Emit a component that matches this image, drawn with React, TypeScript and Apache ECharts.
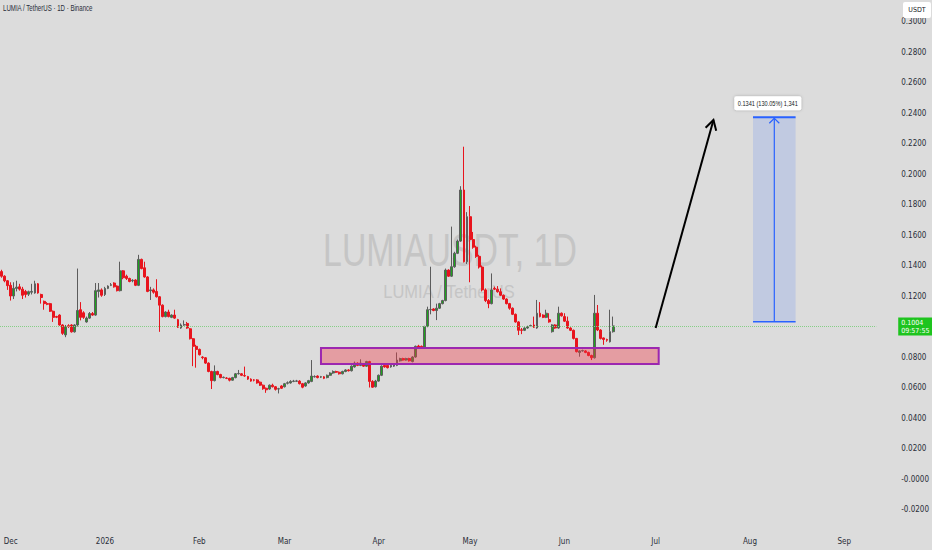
import React, { useEffect, useRef } from "react";
import * as echarts from "echarts";

// ---------- data ----------
const START_UTC = Date.UTC(2025, 10, 28); // first daily candle
const DAY_MS = 86400000;
const CATEGORY_COUNT = 288; // visible daily slots (chart extends into the future)
const MONTH_NAMES = ["Jan", "Feb", "Mar", "Apr", "May", "Jun", "Jul", "Aug", "Sep", "Oct", "Nov", "Dec"];

// [open, close, low, high]
const ohlc: number[][] = [
  [0.136, 0.133, 0.132, 0.1372], [0.133, 0.13, 0.129, 0.1336], [0.13, 0.1268, 0.124, 0.1305], [0.127, 0.12, 0.117, 0.129],
  [0.12, 0.125, 0.118, 0.129], [0.125, 0.1258, 0.123, 0.13], [0.126, 0.1245, 0.1235, 0.128], [0.1245, 0.1205, 0.118, 0.126],
  [0.123, 0.121, 0.119, 0.124], [0.1212, 0.1228, 0.12, 0.1235], [0.1225, 0.123, 0.121, 0.128], [0.122, 0.128, 0.1215, 0.13],
  [0.128, 0.122, 0.1215, 0.1285], [0.121, 0.119, 0.115, 0.1215], [0.1165, 0.115, 0.111, 0.117], [0.115, 0.1146, 0.114, 0.116],
  [0.115, 0.11, 0.1095, 0.1155], [0.11, 0.106, 0.103, 0.1105], [0.1065, 0.1061, 0.1055, 0.107], [0.1075, 0.101, 0.1005, 0.108],
  [0.101, 0.0955, 0.0945, 0.1015], [0.0945, 0.1, 0.093, 0.101], [0.1005, 0.1001, 0.099, 0.1015], [0.101, 0.0965, 0.096, 0.1015],
  [0.0965, 0.101, 0.096, 0.1015], [0.101, 0.1105, 0.1, 0.138], [0.111, 0.106, 0.104, 0.116], [0.109, 0.106, 0.105, 0.11],
  [0.103, 0.1055, 0.1025, 0.1065], [0.1055, 0.1085, 0.105, 0.1095], [0.1085, 0.1075, 0.107, 0.1095], [0.1075, 0.1235, 0.107, 0.1285],
  [0.123, 0.124, 0.119, 0.1285], [0.124, 0.1205, 0.1195, 0.125], [0.121, 0.125, 0.12, 0.126], [0.125, 0.1265, 0.1245, 0.127],
  [0.127, 0.1274, 0.1265, 0.1285], [0.1285, 0.126, 0.1255, 0.129], [0.1265, 0.1235, 0.123, 0.127], [0.1235, 0.1365, 0.123, 0.1425],
  [0.1365, 0.132, 0.131, 0.137], [0.133, 0.1315, 0.1305, 0.134], [0.1315, 0.1295, 0.129, 0.132], [0.13, 0.1303, 0.129, 0.131],
  [0.1305, 0.127, 0.1265, 0.131], [0.127, 0.144, 0.1265, 0.147], [0.144, 0.138, 0.1375, 0.1445], [0.1385, 0.1325, 0.132, 0.1425],
  [0.1325, 0.123, 0.1225, 0.133], [0.1235, 0.124, 0.1174, 0.126], [0.124, 0.1225, 0.1215, 0.125], [0.123, 0.1195, 0.119, 0.131],
  [0.1195, 0.114, 0.0965, 0.12], [0.114, 0.1065, 0.106, 0.1145], [0.1065, 0.1095, 0.106, 0.11], [0.1095, 0.1065, 0.106, 0.111],
  [0.106, 0.1075, 0.1055, 0.108], [0.1075, 0.1055, 0.105, 0.111], [0.1045, 0.0995, 0.099, 0.105], [0.099, 0.101, 0.0985, 0.102],
  [0.101, 0.1012, 0.1005, 0.104], [0.102, 0.099, 0.0985, 0.103], [0.0985, 0.092, 0.0915, 0.099], [0.092, 0.087, 0.074, 0.0925],
  [0.087, 0.085, 0.073, 0.088], [0.085, 0.0815, 0.081, 0.0855], [0.08, 0.0796, 0.0785, 0.0805], [0.0795, 0.076, 0.0755, 0.08],
  [0.076, 0.0705, 0.07, 0.0765], [0.0705, 0.0645, 0.059, 0.071], [0.0645, 0.0705, 0.064, 0.0745], [0.0705, 0.0685, 0.068, 0.071],
  [0.0685, 0.0665, 0.066, 0.069], [0.0665, 0.0667, 0.066, 0.0672], [0.0662, 0.066, 0.0655, 0.0668], [0.066, 0.0648, 0.064, 0.0664],
  [0.0648, 0.0665, 0.0645, 0.067], [0.0665, 0.069, 0.066, 0.0695], [0.069, 0.0692, 0.0685, 0.0715], [0.069, 0.068, 0.0675, 0.0695],
  [0.0678, 0.0676, 0.067, 0.0737], [0.0672, 0.0655, 0.065, 0.0676], [0.0655, 0.0642, 0.0638, 0.066], [0.065, 0.0648, 0.064, 0.0655],
  [0.065, 0.063, 0.0625, 0.0655], [0.0635, 0.0615, 0.061, 0.064], [0.0615, 0.0592, 0.0585, 0.062], [0.0595, 0.0585, 0.0565, 0.06],
  [0.059, 0.0615, 0.0585, 0.062], [0.0615, 0.0605, 0.06, 0.0625], [0.0605, 0.0588, 0.058, 0.061], [0.059, 0.0592, 0.0561, 0.0598],
  [0.061, 0.0595, 0.059, 0.0615], [0.0605, 0.0625, 0.06, 0.063], [0.0628, 0.0631, 0.062, 0.064], [0.063, 0.064, 0.0625, 0.0648],
  [0.064, 0.0642, 0.0635, 0.065], [0.0641, 0.0643, 0.0636, 0.065], [0.0642, 0.0625, 0.062, 0.0648], [0.0625, 0.0602, 0.0595, 0.063],
  [0.061, 0.063, 0.0605, 0.0635],
  [0.063, 0.0645, 0.0625, 0.065], [0.064, 0.0675, 0.0635, 0.078], [0.067, 0.0672, 0.0665, 0.068], [0.0675, 0.0665, 0.066, 0.068],
  [0.0668, 0.0671, 0.0662, 0.0676], [0.067, 0.066, 0.0655, 0.0675], [0.0665, 0.068, 0.066, 0.0685], [0.068, 0.0695, 0.0676, 0.07],
  [0.0695, 0.0705, 0.069, 0.0712], [0.0705, 0.07, 0.0695, 0.071], [0.07, 0.069, 0.0685, 0.0705], [0.069, 0.0705, 0.0686, 0.071],
  [0.0705, 0.0715, 0.07, 0.072], [0.0715, 0.071, 0.0705, 0.072], [0.071, 0.074, 0.0705, 0.0745], [0.0735, 0.076, 0.073, 0.077],
  [0.076, 0.0745, 0.074, 0.0765], [0.0745, 0.076, 0.074, 0.0785], [0.0755, 0.074, 0.0735, 0.076], [0.074, 0.077, 0.0735, 0.0775],
  [0.077, 0.064, 0.06, 0.0775], [0.064, 0.0602, 0.0598, 0.0648], [0.0605, 0.0642, 0.06, 0.065], [0.0642, 0.068, 0.0638, 0.0685],
  [0.068, 0.074, 0.0675, 0.0745], [0.0745, 0.0735, 0.073, 0.075], [0.0745, 0.073, 0.0725, 0.0752], [0.0735, 0.0745, 0.073, 0.075],
  [0.074, 0.0748, 0.0735, 0.0752], [0.0745, 0.078, 0.074, 0.083], [0.0775, 0.079, 0.077, 0.0795], [0.079, 0.078, 0.0776, 0.0795],
  [0.078, 0.079, 0.0776, 0.0795], [0.079, 0.0775, 0.077, 0.0795], [0.077, 0.08, 0.0765, 0.0805], [0.08, 0.087, 0.0795, 0.0875],
  [0.0872, 0.0865, 0.086, 0.088], [0.087, 0.0865, 0.0858, 0.0875], [0.0865, 0.1, 0.086, 0.1005], [0.1, 0.111, 0.0995, 0.113],
  [0.111, 0.1112, 0.108, 0.1392], [0.1115, 0.1105, 0.11, 0.112], [0.1105, 0.112, 0.1042, 0.115], [0.112, 0.115, 0.1115, 0.1155],
  [0.115, 0.117, 0.1145, 0.1175], [0.117, 0.137, 0.1165, 0.138], [0.137, 0.133, 0.1325, 0.1375], [0.133, 0.1392, 0.1325, 0.1655],
  [0.1392, 0.148, 0.1385, 0.149], [0.148, 0.156, 0.1475, 0.157], [0.156, 0.1895, 0.1555, 0.192], [0.1895, 0.1425, 0.142, 0.2179],
  [0.1425, 0.172, 0.141, 0.175], [0.172, 0.157, 0.129, 0.179], [0.157, 0.152, 0.151, 0.162], [0.152, 0.146, 0.145, 0.153],
  [0.146, 0.139, 0.138, 0.147], [0.139, 0.124, 0.123, 0.14], [0.124, 0.117, 0.116, 0.125], [0.117, 0.115, 0.112, 0.118],
  [0.115, 0.124, 0.1145, 0.1348], [0.125, 0.1245, 0.124, 0.1262], [0.1245, 0.1228, 0.1222, 0.1265], [0.1228, 0.1205, 0.12, 0.125],
  [0.1205, 0.118, 0.1175, 0.121], [0.118, 0.115, 0.1145, 0.1185], [0.115, 0.112, 0.111, 0.1155], [0.112, 0.108, 0.1075, 0.1125],
  [0.108, 0.103, 0.1025, 0.1085], [0.103, 0.0975, 0.0944, 0.1035], [0.0978, 0.0975, 0.095, 0.099], [0.0975, 0.099, 0.097, 0.0995],
  [0.099, 0.1, 0.0985, 0.1005], [0.1003, 0.1006, 0.0998, 0.1012], [0.101, 0.0995, 0.099, 0.1065], [0.099, 0.1087, 0.0985, 0.1174],
  [0.1087, 0.1065, 0.106, 0.116], [0.1075, 0.106, 0.1055, 0.108], [0.106, 0.1087, 0.1055, 0.111], [0.1045, 0.103, 0.1025, 0.1087],
  [0.0966, 0.101, 0.096, 0.1015], [0.101, 0.099, 0.0985, 0.1015], [0.099, 0.1087, 0.0985, 0.113], [0.1087, 0.107, 0.1065, 0.1092],
  [0.1065, 0.1035, 0.103, 0.1087], [0.1035, 0.099, 0.0985, 0.1065], [0.099, 0.0975, 0.097, 0.0995], [0.0975, 0.0922, 0.0915, 0.098],
  [0.0922, 0.0835, 0.083, 0.0925], [0.083, 0.084, 0.0802, 0.0845], [0.084, 0.0842, 0.0835, 0.0848], [0.084, 0.083, 0.0825, 0.0845],
  [0.083, 0.081, 0.0805, 0.0835], [0.081, 0.0795, 0.078, 0.0815], [0.0795, 0.1087, 0.079, 0.1207], [0.1087, 0.0977, 0.097, 0.1141],
  [0.0977, 0.0922, 0.0915, 0.0982], [0.0925, 0.0915, 0.088, 0.0928], [0.0915, 0.091, 0.09, 0.092], [0.09, 0.0966, 0.0895, 0.111],
  [0.0966, 0.1004, 0.096, 0.1065],
];

const lastPrice = 0.1004;
const lastPriceCountdown = "09:57:55";
const titleText = "LUMIA / TetherUS · 1D · Binance";
const watermarkMain = "LUMIAUSDT, 1D";
const watermarkSub = "LUMIA / TetherUS";
const currencyLabel = "USDT";

// drawings, in (candle index, price) terms
const supportZone = { fromIdx: 104.6, toIdx: 215.5, top: 0.0859, bottom: 0.0754 };
const trendArrow = { fromIdx: 214.8, fromPrice: 0.099, toIdx: 233.5, toPrice: 0.2354 };
const priceRange = { fromIdx: 246.6, toIdx: 261.1, base: 0.1031, target: 0.2372, label: "0.1341 (130.05%) 1,341" };

const Y_MIN = -0.04;
const Y_MAX = 0.3141;
const Y_STEP = 0.02;

// ---------- helpers ----------
const categories: string[] = Array.from({ length: CATEGORY_COUNT }, (_, i) => {
  const d = new Date(START_UTC + i * DAY_MS);
  return d.toISOString().slice(0, 10);
});

const NARROW = "'Liberation Sans Narrow', 'DejaVu Sans Condensed', 'Liberation Sans', sans-serif";
const SANS = "'Liberation Sans', Arial, sans-serif";
const BG = "#dcdcdc";

export default function App() {
  const ref = useRef<HTMLDivElement>(null);

  useEffect(() => {
    if (!ref.current) return;
    const chart = echarts.init(ref.current, undefined, { renderer: "svg" });

    const renderDrawings = (_params: any, api: any) => {
      const za = api.coord([supportZone.fromIdx, supportZone.top]);
      const zb = api.coord([supportZone.toIdx, supportZone.bottom]);

      const a0 = api.coord([trendArrow.fromIdx, trendArrow.fromPrice]);
      const a1 = api.coord([trendArrow.toIdx, trendArrow.toPrice]);
      const dx = a0[0] - a1[0];
      const dy = a0[1] - a1[1];
      const len = Math.sqrt(dx * dx + dy * dy);
      const ux = dx / len;
      const uy = dy / len;
      const ang = (30 * Math.PI) / 180;
      const hl = 11;
      const rot = (s: number) => [
        a1[0] + hl * (ux * Math.cos(s * ang) - uy * Math.sin(s * ang)),
        a1[1] + hl * (ux * Math.sin(s * ang) + uy * Math.cos(s * ang)),
      ];
      const h1 = rot(1);
      const h2 = rot(-1);

      const m0 = api.coord([priceRange.fromIdx, priceRange.target]);
      const m1 = api.coord([priceRange.toIdx, priceRange.base]);
      const cx = (m0[0] + m1[0]) / 2;
      const blue = "#2962ff";

      return {
        type: "group",
        children: [
          {
            type: "rect",
            shape: { x: za[0], y: za[1], width: zb[0] - za[0], height: zb[1] - za[1] },
            style: { fill: "rgba(242,54,69,0.38)", stroke: "#9c27b0", lineWidth: 2 },
          },
          {
            type: "polyline",
            shape: { points: [a0, a1] },
            style: { stroke: "#000", lineWidth: 2, fill: "none" },
          },
          {
            type: "polyline",
            shape: { points: [h1, a1, h2] },
            style: { stroke: "#000", lineWidth: 2, fill: "none" },
          },
          {
            type: "rect",
            shape: { x: m0[0], y: m0[1], width: m1[0] - m0[0], height: m1[1] - m0[1] },
            style: { fill: "rgba(41,98,255,0.15)" },
          },
          {
            type: "line",
            shape: { x1: m0[0], y1: m0[1], x2: m1[0], y2: m0[1] },
            style: { stroke: blue, lineWidth: 2 },
          },
          {
            type: "line",
            shape: { x1: m0[0], y1: m1[1], x2: m1[0], y2: m1[1] },
            style: { stroke: blue, lineWidth: 1.5 },
          },
          {
            type: "line",
            shape: { x1: cx, y1: m1[1], x2: cx, y2: m0[1] },
            style: { stroke: blue, lineWidth: 1.2 },
          },
          {
            type: "polyline",
            shape: { points: [[cx - 5, m0[1] + 6], [cx, m0[1] + 1], [cx + 5, m0[1] + 6]] },
            style: { stroke: blue, lineWidth: 1.2, fill: "none" },
          },
          {
            type: "rect",
            shape: { x: cx - 40, y: m0[1] - 21, width: 67, height: 14, r: 2 },
            style: { fill: "#ffffff", shadowBlur: 3, shadowColor: "rgba(0,0,0,0.25)" },
          },
          {
            type: "text",
            x: cx - 6.5,
            y: m0[1] - 14,
            scaleX: 0.8,
            style: {
              text: priceRange.label,
              x: 0,
              y: 0,
              align: "center",
              verticalAlign: "middle",
              fontSize: 7,
              fontFamily: SANS,
              fill: "#131722",
            },
          },
        ],
      };
    };

    const option: any = {
      animation: false,
      backgroundColor: BG,
      grid: { left: 0, right: 52, top: 0, bottom: 10, containLabel: false },
      xAxis: {
        type: "category",
        data: categories,
        boundaryGap: true,
        offset: -9,
        axisLine: { show: false },
        axisTick: { show: false },
        splitLine: { show: false },
        axisLabel: {
          interval: (_i: number, v: string) => v.endsWith("-01"),
          formatter: (v: string) => {
            const m = Number(v.slice(5, 7)) - 1;
            return m === 0 ? v.slice(0, 4) : MONTH_NAMES[m];
          },
          margin: 6,
          fontSize: 8,
          color: "#2a2e39",
          fontFamily: NARROW,
        },
      },
      yAxis: {
        type: "value",
        position: "right",
        min: Y_MIN,
        max: Y_MAX,
        interval: Y_STEP,
        scale: false,
        axisLine: { show: false },
        axisTick: { show: false },
        splitLine: { show: false },
        axisLabel: {
          margin: 25,
          align: "left",
          fontSize: 8,
          color: "#2a2e39",
          fontFamily: NARROW,
          formatter: (v: number) => {
            if (v > 0.305 || v < -0.025) return "";
            if (Math.abs(v - lastPrice) < 0.005) return "";
            if (Math.abs(v) < 1e-9) return "-0.0000";
            return v.toFixed(4);
          },
        },
      },
      series: [
        {
          type: "candlestick",
          data: ohlc,
          barWidth: 2.4,
          itemStyle: {
            color: "#1ea51e",
            color0: "#e8141d",
            borderColor: "#5c5c5c",
            borderColor0: "#e8141d",
            borderWidth: 1,
          },
          markLine: {
            silent: true,
            symbol: ["none", "none"],
            data: [{ yAxis: lastPrice }],
            lineStyle: { type: "dotted", color: "#86cf86", width: 1 },
            label: {
              show: true,
              position: "end",
              distance: 22,
              formatter: `${lastPrice.toFixed(4)}\n${lastPriceCountdown}`,
              backgroundColor: "#1ec41e",
              color: "#ffffff",
              fontSize: 7,
              lineHeight: 8,
              padding: [1, 3],
              fontFamily: NARROW,
              align: "left",
            },
          },
        },
        {
          type: "custom",
          data: [[0, 0]],
          silent: true,
          clip: false,
          z: 5,
          renderItem: renderDrawings,
        },
      ],
      graphic: [
        {
          type: "text",
          x: 450,
          y: 250,
          scaleX: 0.72,
          z: 0,
          silent: true,
          style: {
            text: watermarkMain,
            fill: "#c5c5c5",
            fontSize: 47,
            fontFamily: SANS,
            align: "center",
            verticalAlign: "middle",
          },
        },
        {
          type: "text",
          x: 449,
          y: 292,
          scaleX: 0.89,
          z: 0,
          silent: true,
          style: {
            text: watermarkSub,
            fill: "#c5c5c5",
            fontSize: 18.5,
            fontFamily: SANS,
            align: "center",
            verticalAlign: "middle",
          },
        },
        {
          type: "text",
          x: 3,
          y: 8,
          scaleX: 0.72,
          z: 100,
          style: {
            text: titleText,
            fill: "#2a2e39",
            fontSize: 8.5,
            fontFamily: SANS,
            align: "left",
            verticalAlign: "middle",
          },
        },
        {
          type: "rect",
          z: 100,
          shape: { x: 903, y: 2, width: 28, height: 16, r: 2 },
          style: { fill: "#ffffff" },
        },
        {
          type: "text",
          x: 917,
          y: 10,
          z: 101,
          style: {
            text: currencyLabel,
            fill: "#131722",
            fontSize: 7,
            fontFamily: NARROW,
            align: "center",
            verticalAlign: "middle",
          },
        },
      ],
    };

    chart.setOption(option);
    return () => chart.dispose();
  }, []);

  return (
    <div
      ref={ref}
      style={{ position: "fixed", left: 0, top: 0, width: "932px", height: "550px", background: BG }}
    />
  );
}
